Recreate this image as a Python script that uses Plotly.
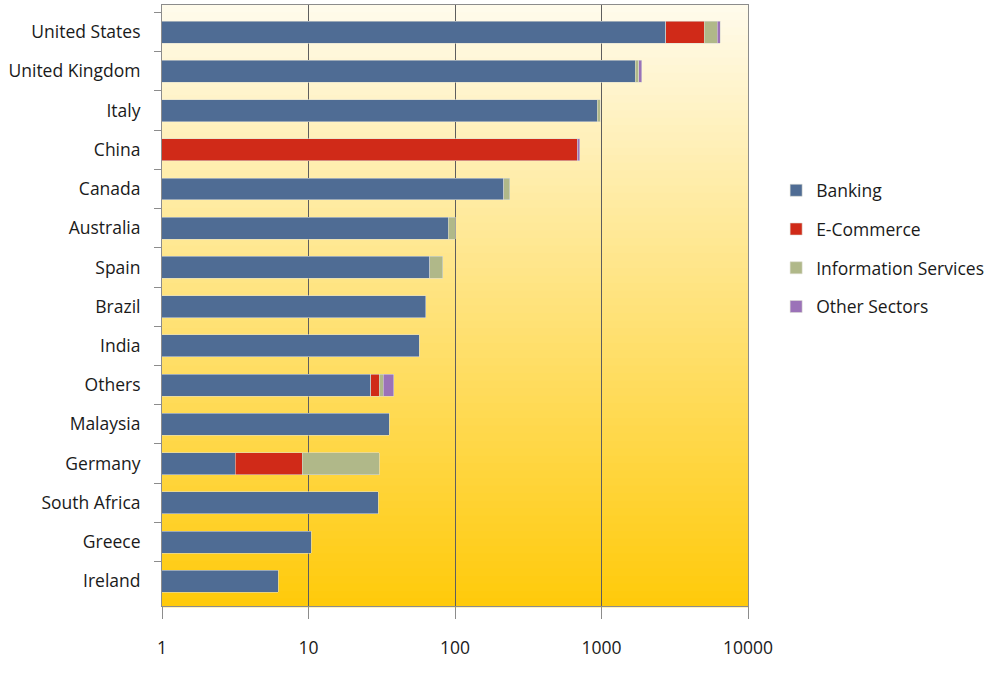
import plotly.graph_objects as go

countries = ["United States", "United Kingdom", "Italy", "China", "Canada", "Australia",
             "Spain", "Brazil", "India", "Others", "Malaysia", "Germany", "South Africa",
             "Greece", "Ireland"]
banking = [2755, 1693, 936, 0, 215, 90, 67, 63, 57, 26.6, 35.6, 3.15, 30, 10.45, 6.22]
ecommerce = [2277, 0, 0, 684, 0, 0, 0, 0, 0, 3.8, 0, 5.88, 0, 0, 0]
info_services = [1137, 102, 41, 0, 22, 10, 15.6, 0, 0, 2.0, 0, 21.4, 0, 0, 0]
other_sectors = [273, 86, 0, 29, 0, 0, 0, 0, 0, 5.9, 0, 0, 0, 0, 0]
x_ticks = [1, 10, 100, 1000, 10000]
x_ticktext = ["1", "10", "100", "1000", "10000"]

series = [
    ("Banking", banking, "#4f6c94"),
    ("E-Commerce", ecommerce, "#d02a18"),
    ("Information Services", info_services, "#b0b889"),
    ("Other Sectors", other_sectors, "#9b72b8"),
]

FONT = "Open Sans"
FS = 17.5
fig = go.Figure()
for i, (name, vals, col) in enumerate(series):
    fig.add_trace(go.Bar(
        y=countries, x=[v if v else None for v in vals], name=name, orientation="h",
        marker=dict(color=col, line=dict(color="rgba(220,220,210,0.7)", width=0.8)),
        legendgroup=name,
    ))

# background vertical gradient (cream -> gold)
top = (255, 251, 236)
bot = (255, 202, 10)
n = 80
shapes = []
for k in range(n):
    t = (k + 0.5) / n
    c = tuple(round(top[j] + (bot[j] - top[j]) * t) for j in range(3))
    shapes.append(dict(type="rect", xref="x domain", yref="y domain", layer="below",
                       x0=0, x1=1, y0=1 - (k + 1) / n - 0.002, y1=1 - k / n,
                       fillcolor="rgb(%d,%d,%d)" % c, line=dict(width=0)))

fig.update_layout(
    width=1002, height=677,
    barmode="stack", bargap=0.44,
    paper_bgcolor="white", plot_bgcolor="rgba(0,0,0,0)",
    margin=dict(l=162, r=254, t=5, b=71),
    font=dict(family=FONT, size=FS, color="#1a1a1a"),
    shapes=shapes,
    legend=dict(x=1.048, xanchor="left", y=0.595, yanchor="middle",
                font=dict(family=FONT, size=FS, color="#1a1a1a"),
                tracegroupgap=13, bgcolor="rgba(0,0,0,0)"),
    xaxis=dict(type="log", range=[0, 4], tickvals=x_ticks, ticktext=x_ticktext,
               showgrid=True, gridcolor="#5e5e5e", gridwidth=1,
               showline=True, linecolor="#8c8c8c", linewidth=1, mirror=True,
               ticks="outside", ticklen=12, tickcolor="#8c8c8c",
               ticklabelstandoff=14, zeroline=False),
    yaxis=dict(type="category", categoryorder="array", categoryarray=countries,
               range=[14.63, -0.69], tickson="boundaries",
               showgrid=False, showline=True, linecolor="#8c8c8c", linewidth=1, mirror=True,
               ticks="outside", ticklen=7, tickcolor="#8c8c8c",
               ticklabelstandoff=17),
)
fig.write_html("out.html", config={"displayModeBar": False},
               post_script="document.body.style.margin='0';")
